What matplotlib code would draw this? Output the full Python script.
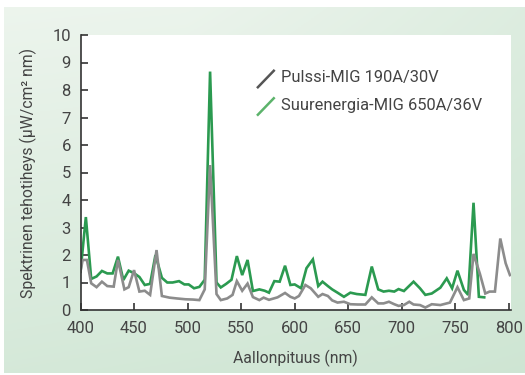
import matplotlib
matplotlib.use('Agg')
import matplotlib.pyplot as plt
import numpy as np
from matplotlib.lines import Line2D

plt.rcParams['font.family'] = ['Roboto', 'DejaVu Sans']

# Suurenergia-MIG 650A/36V (vihreä)
aalto_suur = [400, 405, 410, 415, 420, 425, 430, 435, 440, 445, 450, 455, 460, 465, 470,
              476, 481, 486, 492, 497, 501, 506, 511, 516, 521, 527, 531, 536, 541, 546,
              551, 556, 561, 567, 572, 576, 581, 586, 591, 596, 600, 606, 611, 617, 622,
              626, 631, 635, 640, 646, 652, 658, 666, 672, 678, 683, 688, 693, 697, 702,
              711, 717, 722, 728, 736, 742, 747, 752, 758, 762, 767, 772, 777]
teho_suur = [1.39, 3.38, 1.13, 1.22, 1.42, 1.33, 1.33, 1.94, 1.09, 1.43, 1.34, 1.2, 0.91, 0.95, 2.0,
             1.17, 1.0, 1.0, 1.05, 0.93, 0.93, 0.79, 0.84, 1.1, 8.67, 1.0, 0.82, 0.95, 1.1, 1.96,
             1.27, 1.82, 0.69, 0.75, 0.7, 0.63, 1.05, 1.03, 1.61, 0.91, 0.93, 0.79, 1.52, 1.84, 0.87,
             1.03, 0.87, 0.75, 0.63, 0.48, 0.63, 0.58, 0.55, 1.58, 0.75, 0.67, 0.7, 0.67, 0.76, 0.69,
             1.03, 0.79, 0.55, 0.6, 0.81, 1.15, 0.79, 1.43, 0.73, 0.55, 3.9, 0.48, 0.46]

# Pulssi-MIG 190A/30V (harmaa)
aalto_puls = [400, 402, 406, 410, 415, 420, 425, 431, 435, 441, 445, 450, 455, 460, 465,
              471, 476, 483, 490, 498, 505, 511, 516, 521, 527, 531, 537, 542, 546, 551,
              556, 561, 567, 571, 576, 584, 591, 596, 600, 604, 610, 615, 622, 626, 631,
              635, 640, 646, 652, 659, 666, 672, 678, 683, 688, 693, 697, 702, 707, 711,
              717, 722, 728, 736, 745, 752, 758, 763, 767, 773, 778, 782, 787, 792, 797, 801]
teho_puls = [1.4, 1.82, 1.82, 0.97, 0.83, 1.03, 0.87, 0.85, 1.82, 0.75, 0.83, 1.45, 0.67, 0.7, 0.55,
             2.18, 0.51, 0.45, 0.42, 0.39, 0.38, 0.36, 0.75, 5.27, 0.58, 0.36, 0.42, 0.55, 1.05, 0.7,
             0.96, 0.47, 0.36, 0.45, 0.37, 0.46, 0.62, 0.48, 0.42, 0.51, 0.91, 0.79, 0.48, 0.58, 0.51,
             0.35, 0.27, 0.3, 0.21, 0.2, 0.2, 0.46, 0.24, 0.24, 0.3, 0.21, 0.15, 0.18, 0.3, 0.2,
             0.18, 0.09, 0.21, 0.18, 0.27, 0.83, 0.36, 0.42, 2.04, 1.31, 0.6, 0.67, 0.67, 2.6, 1.7, 1.27]

nimet = ['Pulssi-MIG 190A/30V', 'Suurenergia-MIG 650A/36V']
x_tikit = [400, 450, 500, 550, 600, 650, 700, 750, 800]
y_tikit = list(range(0, 11))

vihrea = '#2b9a50'
harmaa = '#8c8c8c'
teksti = '#444444'

fig = plt.figure(figsize=(5.25, 3.75), dpi=100)
fig.patch.set_facecolor('white')

# vihreä liukuväritausta
tausta = fig.add_axes([4 / 525, 2 / 375, 521 / 525, 366 / 375])
yy, xx = np.mgrid[0:1:200j, 0:1:200j]
t = np.clip(0.75 * yy + 0.35 * xx * (1 - 0.5 * yy) + 0.25 * (1 - yy) * np.abs(xx - 0.35), 0, 1)
yla = np.array([0.94, 0.965, 0.94])
ala = np.array([0.80, 0.895, 0.82])
kuva = yla[None, None, :] * (1 - t[..., None]) + ala[None, None, :] * t[..., None]
tausta.imshow(kuva, aspect='auto', extent=(0, 1, 0, 1), origin='upper')
tausta.axis('off')

ax = fig.add_axes([80.5 / 525, 65 / 375, 430.5 / 525, 275 / 375])
ax.set_facecolor('white')

ax.plot(aalto_suur, teho_suur, color=vihrea, linewidth=1.9, solid_joinstyle='miter')
ax.plot(aalto_puls, teho_puls, color=harmaa, linewidth=1.9, solid_joinstyle='miter')

ax.set_xlim(400, 802)
ax.set_ylim(0, 10)
ax.set_xticks(x_tikit)
ax.set_yticks(y_tikit)
for s in ['top', 'right']:
    ax.spines[s].set_visible(False)
for s in ['left', 'bottom']:
    ax.spines[s].set_color('#333333')
    ax.spines[s].set_linewidth(1.2)
ax.tick_params(axis='both', direction='in', length=5, width=1.2, color='#333333',
               labelsize=12, labelcolor=teksti)
ax.tick_params(axis='x', pad=8)
ax.tick_params(axis='y', pad=7)

ax.set_xlabel('Aallonpituus (nm)', fontsize=11.3, color=teksti, labelpad=10)
ax.set_ylabel('Spektrinen tehotiheys (µW/cm² nm)', fontsize=11.3, color=teksti, labelpad=11)

# selite vinoilla viivoilla
ax.add_line(Line2D([0.412, 0.449], [0.81, 0.87], transform=ax.transAxes, color='#555555', linewidth=1.8))
ax.add_line(Line2D([0.412, 0.449], [0.71, 0.77], transform=ax.transAxes, color='#5cb36b', linewidth=1.8))
ax.text(0.466, 0.845, nimet[0], transform=ax.transAxes, fontsize=11.9, color=teksti, va='center')
ax.text(0.466, 0.745, nimet[1], transform=ax.transAxes, fontsize=11.9, color=teksti, va='center')

fig.savefig('out.png', dpi=100)
